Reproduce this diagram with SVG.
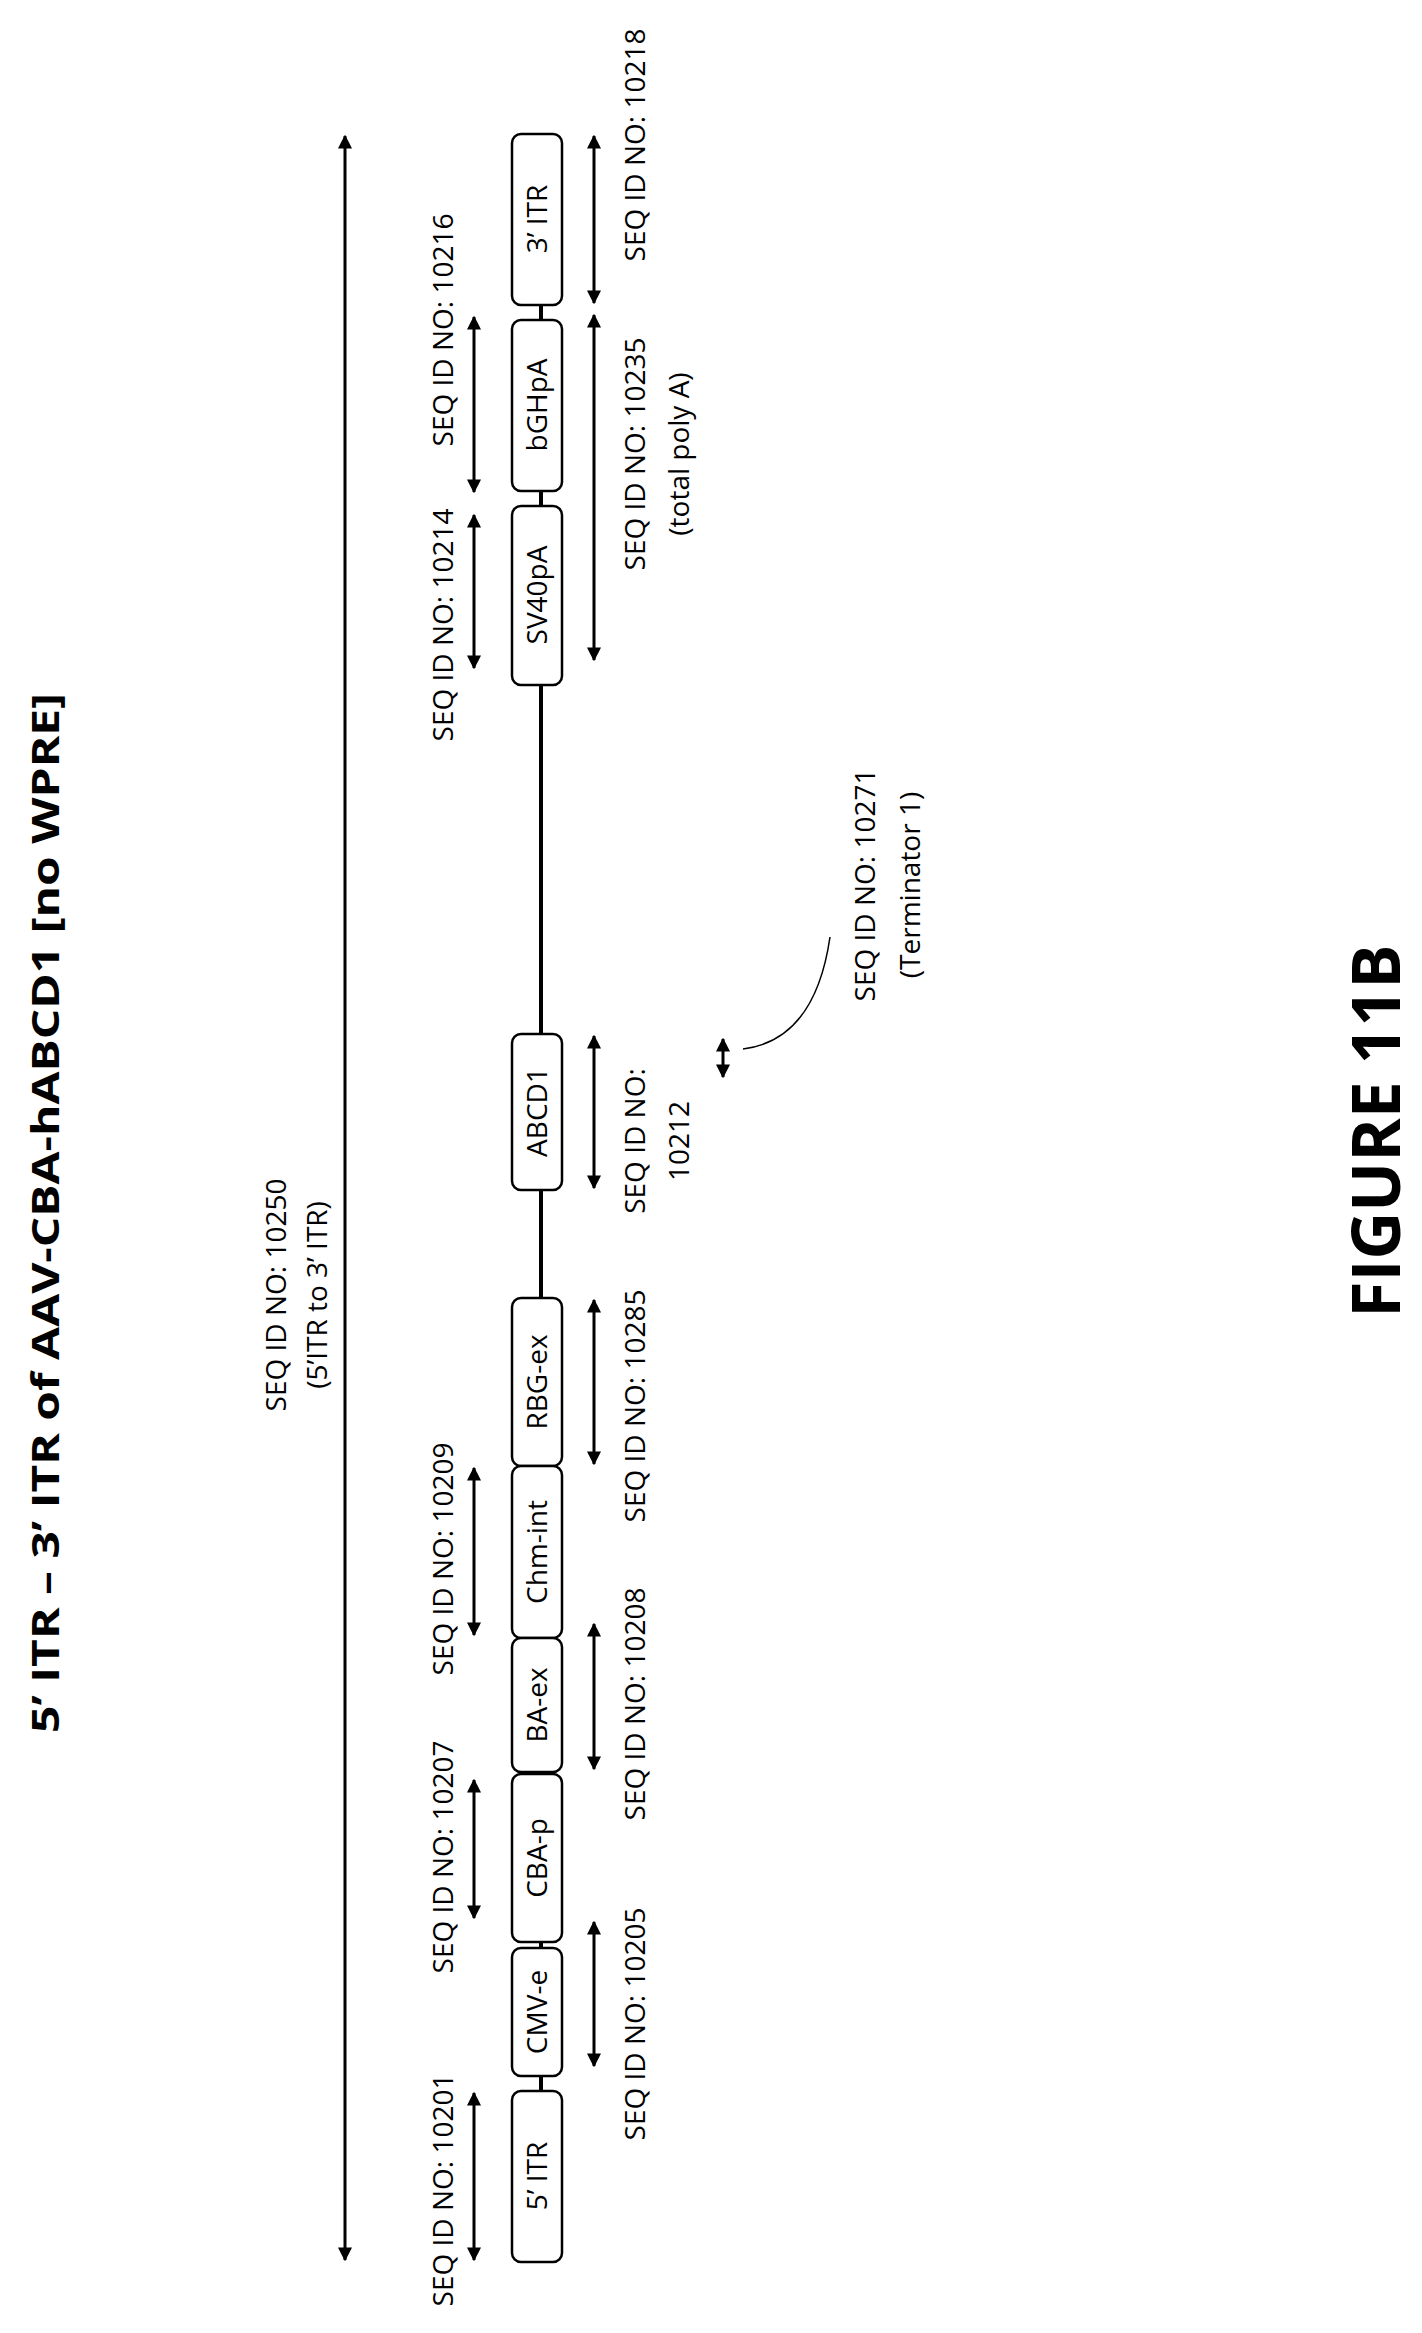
<svg xmlns="http://www.w3.org/2000/svg" width="1422" height="2333" viewBox="0 0 1422 2333">
<defs>
<marker id="a" viewBox="0 0 10 10" refX="9" refY="5" markerWidth="14" markerHeight="14" markerUnits="userSpaceOnUse" orient="auto-start-reverse"><path d="M0,0 L10,5 L0,10 z" fill="#000"/></marker>
<style>
text{font-family:"Open Sans","Liberation Sans",sans-serif;fill:#000}
.t{font-size:28px}
.b{font-size:28px}
rect{fill:#fff;stroke:#000;stroke-width:2.5}
.ar{stroke:#000;stroke-width:3;fill:none;marker-start:url(#a);marker-end:url(#a)}
</style>
</defs>
<rect x="0" y="0" width="1422" height="2333" style="fill:#fff;stroke:none"/>
<text transform="translate(59,1213) rotate(-90)" text-anchor="middle" style="font-size:38px;font-weight:bold" textLength="1040" lengthAdjust="spacingAndGlyphs">5’ ITR – 3’ ITR of AAV-CBA-hABCD1 [no WPRE]</text>
<text transform="translate(1400,1131) rotate(-90)" text-anchor="middle" style="font-size:66px;font-weight:bold">FIGURE 11B</text>
<g id="connectors">
<line x1="541" y1="280" x2="541" y2="2100" style="stroke:#000;stroke-width:4"/>
<line class="ar" x1="345" y1="136" x2="345" y2="2260"/>
<line class="ar" x1="474" y1="317" x2="474" y2="492"/>
<line class="ar" x1="474" y1="515" x2="474" y2="668"/>
<line class="ar" x1="474" y1="1468" x2="474" y2="1635"/>
<line class="ar" x1="474" y1="1780" x2="474" y2="1918"/>
<line class="ar" x1="474" y1="2093" x2="474" y2="2260"/>
<line class="ar" x1="594" y1="136" x2="594" y2="303"/>
<line class="ar" x1="594" y1="315" x2="594" y2="660"/>
<line class="ar" x1="594" y1="1036" x2="594" y2="1188"/>
<line class="ar" x1="594" y1="1300" x2="594" y2="1464"/>
<line class="ar" x1="594" y1="1624" x2="594" y2="1769"/>
<line class="ar" x1="594" y1="1922" x2="594" y2="2066"/>
<line class="ar" x1="723" y1="1039" x2="723" y2="1077"/>
<path d="M743,1049 Q815,1040 830,937" style="stroke:#000;stroke-width:1.5;fill:none"/>
</g>
<g id="n3itr"><rect x="512" y="134" width="50" height="171" rx="9"/><text class="b" transform="translate(547,219) rotate(-90)" text-anchor="middle">3’ ITR</text></g>
<g id="nbgh"><rect x="512" y="320" width="50" height="171" rx="9"/><text class="b" transform="translate(547,405) rotate(-90)" text-anchor="middle">bGHpA</text></g>
<g id="nsv40"><rect x="512" y="506" width="50" height="179" rx="9"/><text class="b" transform="translate(547,595) rotate(-90)" text-anchor="middle">SV40pA</text></g>
<g id="nabcd1"><rect x="512" y="1034" width="50" height="156" rx="9"/><text class="b" transform="translate(547,1112) rotate(-90)" text-anchor="middle">ABCD1</text></g>
<g id="nrbg"><rect x="512" y="1298" width="50" height="168" rx="9"/><text class="b" transform="translate(547,1382) rotate(-90)" text-anchor="middle">RBG-ex</text></g>
<g id="nchm"><rect x="512" y="1466" width="50" height="172" rx="9"/><text class="b" transform="translate(547,1552) rotate(-90)" text-anchor="middle">Chm-int</text></g>
<g id="nba"><rect x="512" y="1638" width="50" height="134" rx="9"/><text class="b" transform="translate(547,1705) rotate(-90)" text-anchor="middle">BA-ex</text></g>
<g id="ncba"><rect x="512" y="1774" width="50" height="168" rx="9"/><text class="b" transform="translate(547,1858) rotate(-90)" text-anchor="middle">CBA-p</text></g>
<g id="ncmv"><rect x="512" y="1948" width="50" height="128" rx="9"/><text class="b" transform="translate(547,2012) rotate(-90)" text-anchor="middle">CMV-e</text></g>
<g id="n5itr"><rect x="512" y="2091" width="50" height="171" rx="9"/><text class="b" transform="translate(547,2176) rotate(-90)" text-anchor="middle">5’ ITR</text></g>
<g id="labels">
<text class="t" transform="translate(286,1295) rotate(-90)" text-anchor="middle">SEQ ID NO: 10250</text>
<text class="t" transform="translate(327,1295) rotate(-90)" text-anchor="middle">(5’ITR to 3’ ITR)</text>
<text class="t" transform="translate(453,330) rotate(-90)" text-anchor="middle">SEQ ID NO: 10216</text>
<text class="t" transform="translate(453,625) rotate(-90)" text-anchor="middle">SEQ ID NO: 10214</text>
<text class="t" transform="translate(453,1559) rotate(-90)" text-anchor="middle">SEQ ID NO: 10209</text>
<text class="t" transform="translate(453,1857) rotate(-90)" text-anchor="middle">SEQ ID NO: 10207</text>
<text class="t" transform="translate(453,2190) rotate(-90)" text-anchor="middle">SEQ ID NO: 10201</text>
<text class="t" transform="translate(645,145) rotate(-90)" text-anchor="middle">SEQ ID NO: 10218</text>
<text class="t" transform="translate(645,454) rotate(-90)" text-anchor="middle">SEQ ID NO: 10235</text>
<text class="t" transform="translate(689,454) rotate(-90)" text-anchor="middle">(total poly A)</text>
<text class="t" transform="translate(645,1141) rotate(-90)" text-anchor="middle">SEQ ID NO:</text>
<text class="t" transform="translate(689,1141) rotate(-90)" text-anchor="middle">10212</text>
<text class="t" transform="translate(645,1406) rotate(-90)" text-anchor="middle">SEQ ID NO: 10285</text>
<text class="t" transform="translate(645,1704) rotate(-90)" text-anchor="middle">SEQ ID NO: 10208</text>
<text class="t" transform="translate(645,2024) rotate(-90)" text-anchor="middle">SEQ ID NO: 10205</text>
<text class="t" transform="translate(875,885) rotate(-90)" text-anchor="middle">SEQ ID NO: 10271</text>
<text class="t" transform="translate(920,885) rotate(-90)" text-anchor="middle">(Terminator 1)</text>
</g>
</svg>
